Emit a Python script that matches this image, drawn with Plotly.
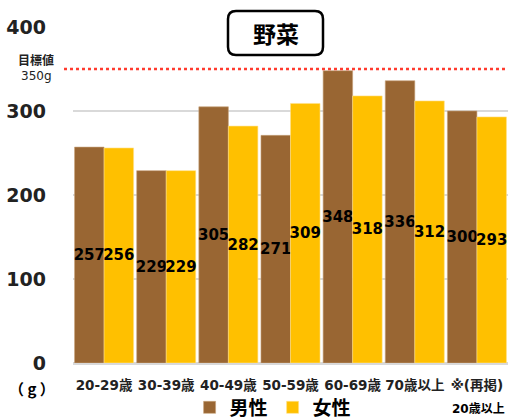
import plotly.graph_objects as go

# Vegetable intake by age group (g/day)
categories = ["20-29歳", "30-39歳", "40-49歳", "50-59歳", "60-69歳", "70歳以上", "※(再掲)"]
male = [257, 229, 305, 271, 348, 336, 300]
female = [256, 229, 282, 309, 318, 312, 293]
target = 350
y_ticks = [0, 100, 200, 300, 400]

W, H = 508, 419
ML, MR, MT, MB = 73, 0, 27, 56
PW, PH = W - ML - MR, H - MT - MB
YMAX = 400

NUM_FONT = "DejaVu Sans, Noto Sans CJK JP"
JP_FONT = "Noto Sans CJK JP, DejaVu Sans"


def px_x(x):
    return (x - ML) / PW


def px_y(y):
    return (H - MB - y) / PH


def note(x, y, text, font, **kw):
    fig.add_annotation(xref="paper", yref="paper", x=px_x(x), y=px_y(y), text=text,
                       showarrow=False, xanchor="center", yanchor="middle",
                       font=font, **kw)


fig = go.Figure()
for name, vals, color, edge in [("男性", male, "#996633", "#c8a27a"),
                                ("女性", female, "#FFC000", "#ffe08a")]:
    fig.add_trace(go.Bar(
        name=name, x=categories, y=vals, marker_color=color,
        marker_line=dict(color=edge, width=0.6),
        text=[str(v) for v in vals], textposition="inside", textangle=0,
        insidetextanchor="middle", constraintext="none",
        textfont=dict(family=NUM_FONT, size=15, color="black", weight="bold"),
    ))

# Target line (350 g)
fig.add_shape(type="line", xref="paper", yref="y", x0=px_x(64), x1=1, y0=target, y1=target,
              line=dict(color="#ff3b2f", width=2.5, dash="dot"), layer="above")
note(36, 60, "目標値", dict(family=JP_FONT, size=12, color="#222", weight="bold"))
note(36, 76, f"{target}g", dict(family=NUM_FONT, size=12, color="#222"))

# Title in a rounded box
x0, x1 = px_x(228), px_x(323)
y0, y1 = px_y(55), px_y(11)
rx, ry = 8 / PW, 8 / PH
path = (f"M {x0+rx},{y0} L {x1-rx},{y0} Q {x1},{y0} {x1},{y0+ry} "
        f"L {x1},{y1-ry} Q {x1},{y1} {x1-rx},{y1} L {x0+rx},{y1} "
        f"Q {x0},{y1} {x0},{y1-ry} L {x0},{y0+ry} Q {x0},{y0} {x0+rx},{y0} Z")
fig.add_shape(type="path", xref="paper", yref="paper", path=path,
              line=dict(color="black", width=2.5), fillcolor="white", layer="above")
note(275.5, 33, "野菜", dict(family=JP_FONT, size=23, color="black", weight="bold"))

# Unit label and second line of the last category
note(32, 388, "（ g ）", dict(family=JP_FONT, size=15, color="black", weight="bold"))
note(478, 409, "20歳以上", dict(family=NUM_FONT, size=12, color="black", weight="bold"))

fig.update_layout(
    width=W, height=H, margin=dict(l=ML, r=MR, t=MT, b=MB, autoexpand=False),
    plot_bgcolor="white", paper_bgcolor="white",
    barmode="group", bargap=0.05, bargroupgap=0,
    showlegend=True,
    legend=dict(orientation="h", x=0.46, xanchor="center", y=px_y(407.5), yanchor="middle",
                bgcolor="rgba(0,0,0,0)",
                font=dict(family=JP_FONT, size=19, color="black", weight="bold"),
                itemwidth=30, traceorder="normal"),
    xaxis=dict(tickangle=0, showgrid=False, showline=False, ticks="", ticklabelstandoff=12,
               automargin=False,
               tickfont=dict(family=NUM_FONT, size=13.5, color="#222", weight="bold")),
    yaxis=dict(range=[0, YMAX], tickvals=y_ticks, showgrid=True, gridcolor="#d9d9d9",
               gridwidth=1.5, zeroline=True, zerolinecolor="#d9d9d9", zerolinewidth=2.5,
               ticks="", ticklabelstandoff=26, automargin=False,
               tickfont=dict(family=NUM_FONT, size=19, color="#222", weight="bold")),
)

fig.write_html("out.html")
